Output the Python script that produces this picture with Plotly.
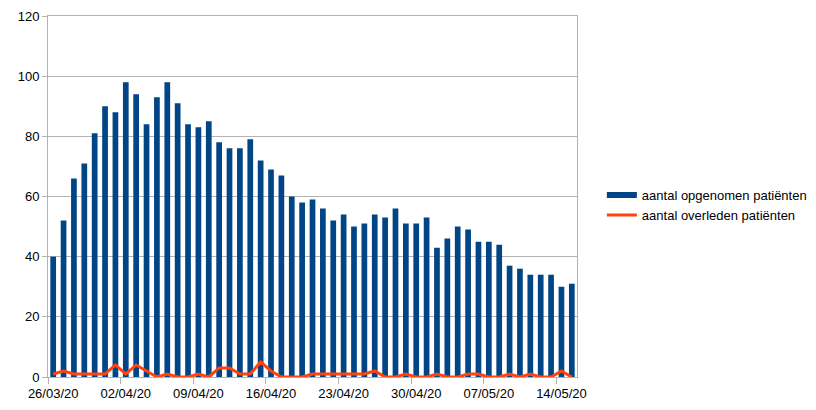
import plotly.graph_objects as go

dates = [
    "26/03/20", "27/03/20", "28/03/20", "29/03/20", "30/03/20", "31/03/20",
    "01/04/20", "02/04/20", "03/04/20", "04/04/20", "05/04/20", "06/04/20",
    "07/04/20", "08/04/20", "09/04/20", "10/04/20", "11/04/20", "12/04/20",
    "13/04/20", "14/04/20", "15/04/20", "16/04/20", "17/04/20", "18/04/20",
    "19/04/20", "20/04/20", "21/04/20", "22/04/20", "23/04/20", "24/04/20",
    "25/04/20", "26/04/20", "27/04/20", "28/04/20", "29/04/20", "30/04/20",
    "01/05/20", "02/05/20", "03/05/20", "04/05/20", "05/05/20", "06/05/20",
    "07/05/20", "08/05/20", "09/05/20", "10/05/20", "11/05/20", "12/05/20",
    "13/05/20", "14/05/20", "15/05/20",
]

opgenomen = [
    40, 52, 66, 71, 81, 90, 88, 98, 94, 84, 93, 98, 91, 84, 83, 85, 78, 76,
    76, 79, 72, 69, 67, 60, 58, 59, 56, 52, 54, 50, 51, 54, 53, 56, 51, 51,
    53, 43, 46, 50, 49, 45, 45, 44, 37, 36, 34, 34, 34, 30, 31,
]

overleden = [
    1, 2, 1, 1, 1, 1, 4, 1, 4, 2, 0, 1, 0, 0, 1, 0, 3, 3,
    1, 1, 5, 2, 0, 0, 0, 1, 1, 1, 1, 1, 1, 2, 0, 0, 1, 0,
    0, 1, 0, 0, 1, 1, 0, 0, 1, 0, 1, 0, 0, 2, 0,
]

BLUE = "#004586"
ORANGE = "#ff420e"
GRID = "#b3b3b3"
FONT = "Liberation Sans, Arial, sans-serif"

fig = go.Figure()
fig.add_trace(go.Bar(
    x=dates, y=opgenomen, name="aantal opgenomen patiënten",
    marker=dict(color=BLUE, line=dict(width=0)), width=0.55, showlegend=False,
))
fig.add_trace(go.Scatter(
    x=dates, y=overleden, mode="lines", name="aantal overleden patiënten",
    line=dict(color=ORANGE, width=3), showlegend=False,
))
# legend entries (line symbols like the reference)
fig.add_trace(go.Scatter(
    x=[None], y=[None], mode="lines", name="aantal opgenomen patiënten",
    line=dict(color=BLUE, width=6),
))
fig.add_trace(go.Scatter(
    x=[None], y=[None], mode="lines", name="aantal overleden patiënten",
    line=dict(color=ORANGE, width=3),
))

fig.update_layout(
    width=816, height=410,
    margin=dict(l=40, r=247, t=8, b=41),
    paper_bgcolor="white", plot_bgcolor="white",
    font=dict(family=FONT, size=13, color="black"),
    bargap=0.45,
    legend=dict(
        x=1.047, y=0.476, xanchor="left", yanchor="middle",
        font=dict(family=FONT, size=13, color="black"),
        tracegroupgap=0, itemwidth=30, bgcolor="rgba(0,0,0,0)",
    ),
)
fig.update_xaxes(
    type="category", tickson="boundaries", dtick=7, tickangle=0,
    automargin=False, ticklabelstandoff=4,
    ticks="outside", ticklen=6, tickcolor=GRID,
    showgrid=False, showline=True, linecolor=GRID, linewidth=1, mirror=True,
    range=[-0.5, len(dates) - 0.5],
)
fig.update_yaxes(
    range=[0, 120], dtick=20, ticks="outside", ticklen=5, tickcolor=GRID,
    automargin=False,
    showgrid=True, gridcolor=GRID, gridwidth=1,
    showline=True, linecolor=GRID, linewidth=1, mirror=True,
    zeroline=False,
)

fig.write_html("out.html")
